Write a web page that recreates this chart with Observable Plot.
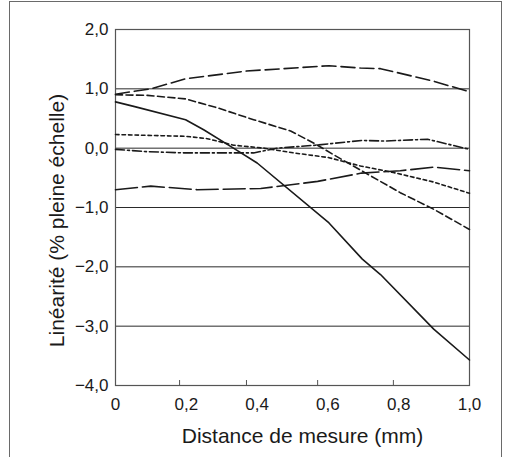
<!DOCTYPE html>
<html>
<head>
<meta charset="utf-8">
<script src="https://cdn.jsdelivr.net/npm/d3@7"></script>
<script src="https://cdn.jsdelivr.net/npm/@observablehq/plot@0.6"></script>
<style>
  html, body { margin: 0; padding: 0; background: #fff; }
  #wrap { position: relative; width: 506px; height: 457px; overflow: hidden; background: #fff; }
  #border { position: absolute; left: 9px; top: 1px; width: 493px; height: 480px; border: 1.5px solid #6a6a6a; box-sizing: border-box; }
  #chart { position: absolute; left: 0; top: 0; }
</style>
</head>
<body>
<div id="wrap"><div id="border"></div><div id="chart"></div></div>
<script>
// Tick values
const xTicks = [0, 0.2, 0.4, 0.6, 0.8, 1.0];
const xInnerTicks = [0.2, 0.4, 0.6, 0.8];
const yTicks = [-4, -3, -2, -1, 0, 1, 2];
const yGrid = [1, 0, -1, -2, -3];

// Series
const solidX = [0, 0.06, 0.218, 0.272, 0.361, 0.43, 0.63, 0.718, 0.766, 0.906, 1.0];
const solidY = [0.78, 0.70, 0.48, 0.31, 0.0, -0.25, -1.26, -1.87, -2.13, -3.05, -3.57];

const longDashTopX = [0, 0.11, 0.218, 0.4, 0.504, 0.63, 0.713, 0.766, 0.905, 1.0];
const longDashTopY = [0.91, 1.0, 1.17, 1.30, 1.34, 1.39, 1.35, 1.34, 1.13, 0.95];

const shortDashX = [0, 0.1, 0.218, 0.313, 0.42, 0.524, 0.594, 0.642, 0.727, 0.818, 0.906, 1.0];
const shortDashY = [0.90, 0.89, 0.83, 0.68, 0.48, 0.29, 0.07, -0.11, -0.42, -0.75, -1.03, -1.37];

const dottedX = [0, 0.218, 0.283, 0.362, 0.45, 0.533, 0.63, 0.713, 0.8, 0.905, 1.0];
const dottedY = [0.23, 0.20, 0.16, 0.05, 0.0, -0.08, -0.16, -0.30, -0.41, -0.57, -0.76];

const dashDotX = [0, 0.1, 0.218, 0.42, 0.486, 0.594, 0.716, 0.774, 0.89, 1.0];
const dashDotY = [-0.02, -0.06, -0.08, -0.08, 0.0, 0.05, 0.13, 0.12, 0.15, -0.02];

const longDashBotX = [0, 0.11, 0.253, 0.44, 0.6, 0.716, 0.818, 0.906, 1.0];
const longDashBotY = [-0.70, -0.64, -0.70, -0.68, -0.56, -0.42, -0.38, -0.32, -0.38];

const xLabel = "Distance de mesure (mm)";
const yLabel = "Linéarité (% pleine échelle)";

// The printed x axis is slightly non-uniform: where each tick sits along the axis (fraction of width)
const xTickSpacing = [0, 0.181, 0.370, 0.571, 0.785, 1];
const xWarp = d3.scaleLinear().domain(xTicks).range(xTickSpacing);

const toRows = (xs, ys) => xs.map((x, i) => ({x, y: ys[i]}));
const fmtX = d => d === 0 ? "0" : d.toFixed(1).replace(".", ",");
const fmtY = d => d.toFixed(1).replace(".", ",").replace("-", "\u2212");
const ink = "#1a1a1a";
const sw = 1.6;

const series = [
  {rows: toRows(solidX, solidY), dash: null},
  {rows: toRows(longDashTopX, longDashTopY), dash: "14,5"},
  {rows: toRows(shortDashX, shortDashY), dash: "7,3.5"},
  {rows: toRows(dottedX, dottedY), dash: "3.5,3"},
  {rows: toRows(dashDotX, dashDotY), dash: "9,3,2,3"},
  {rows: toRows(longDashBotX, longDashBotY), dash: "22,5"}
];

const chart = Plot.plot({
  width: 506,
  height: 457,
  marginLeft: 115,
  marginRight: 37,
  marginTop: 29,
  marginBottom: 72,
  style: {fontFamily: "'Liberation Sans', Arial, Helvetica, sans-serif", fontSize: "17px", color: ink, background: "transparent"},
  x: {domain: [0, 1], transform: xWarp},
  y: {domain: [-4, 2]},
  marks: [
    Plot.ruleY(yGrid, {stroke: "#2a2a2a", strokeWidth: 1}),
    Plot.frame({stroke: "#555", strokeWidth: 1.2}),
    ...series.map(s => Plot.line(s.rows, {x: "x", y: "y", stroke: ink, strokeWidth: sw, strokeDasharray: s.dash})),
    Plot.axisY({ticks: yTicks, tickSize: 0, tickPadding: 7, tickFormat: fmtY, fontSize: 17, label: null, fill: ink}),
    Plot.axisX({ticks: xTicks, tickSize: 0, tickPadding: 12, tickFormat: fmtX, fontSize: 17, label: null, fill: ink}),
    Plot.axisX({ticks: xInnerTicks.map(xWarp), tickSize: -5, tickFormat: () => "", label: null, stroke: "#555"}),
    Plot.text([xLabel], {frameAnchor: "bottom", dx: 10, dy: 57, fontSize: 21, fill: ink}),
    Plot.text([yLabel], {frameAnchor: "left", textAnchor: "middle", rotate: -90, dx: -58, dy: 13, fontSize: 21, fill: ink})
  ]
});
document.getElementById("chart").appendChild(chart);
</script>
</body>
</html>
